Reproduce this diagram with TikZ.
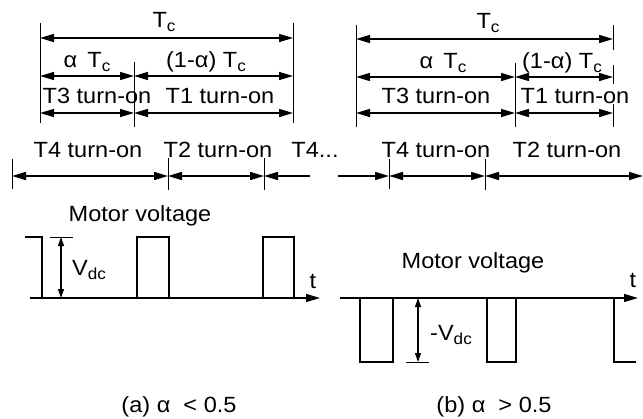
\documentclass[tikz,border=0pt]{standalone}
\usepackage{fontspec}
\setmainfont{Liberation Sans}[FakeStretch=1.07]
\usetikzlibrary{arrows.meta}
\newcommand\sbs[1]{\raisebox{-0.22em}{\fontsize{16}{16}\selectfont #1}}
\tikzset{
  lbl/.style={anchor=base, inner sep=0pt, font=\fontsize{22}{25}\selectfont},
  tipb/.tip={Triangle[length=14pt,width=8pt]},
  tips/.tip={Triangle[length=9pt,width=6pt]},
  dimb/.style={line width=1.4pt, tipb-tipb},
  dimr/.style={line width=1.4pt, -tipb},
  diml/.style={line width=1.4pt, tipb-},
  tick/.style={line width=1pt},
  wave/.style={line width=1.8pt},
  axis/.style={line width=1.3pt, -tipb},
  vdim/.style={line width=1.1pt, tips-tips},
}
\begin{document}
\begin{tikzpicture}[x=1pt,y=-1pt]
\useasboundingbox (0,0) rectangle (643,418);
% ---------- (a) ----------
\draw[tick] (40,23) -- (40,123);
\draw[tick] (293,23) -- (293,123);
\draw[tick] (134,62) -- (134,127);
\coordinate (a1l) at (40,38); \coordinate (a1r) at (293,38);
\draw[dimb] (a1l) -- (a1r);
\node[lbl] (aTc) at (164,27) {T\sbs{c}};
\coordinate (a2l) at (40,76); \coordinate (a2m) at (134,76); \coordinate (a2r) at (293,76);
\draw[dimb] (a2l) -- (a2m);
\draw[dimb] (a2m) -- (a2r);
\node[lbl] (aal) at (87,67) {α\, T\sbs{c}};
\node[lbl] (a1al) at (206,67) {(1-α) T\sbs{c}};
\coordinate (a3l) at (40,113); \coordinate (a3m) at (134,113); \coordinate (a3r) at (293,113);
\draw[dimb] (a3l) -- (a3m);
\draw[dimb] (a3m) -- (a3r);
\node[lbl] (aT3) at (97,103) {T3 turn-on};
\node[lbl] (aT1) at (220,103) {T1 turn-on};
% bottom row (a)
\draw[tick] (12,159) -- (12,189);
\draw[tick] (168,158) -- (168,190);
\draw[tick] (264,158) -- (264,190);
\coordinate (b1) at (12,176); \coordinate (b2) at (168,176); \coordinate (b3) at (264,176); \coordinate (b4) at (310,176);
\draw[dimb] (b1) -- (b2);
\draw[dimb] (b2) -- (b3);
\draw[diml] (b3) -- (b4);
\node[lbl] (aT4) at (88,157) {T4 turn-on};
\node[lbl] (aT2) at (218,157) {T2 turn-on};
\node[lbl] (aT4d) at (315,157) {T4...};
% waveform (a)
\node[lbl] (amv) at (140,221) {Motor voltage};
\coordinate (ax0) at (30,298); \coordinate (ax1) at (320,298);
\draw[axis] (ax0) -- (ax1);
\draw[wave] (25,237) -- (42,237) -- (42,298) -- (137,298) -- (137,237) -- (169,237) -- (169,298)
  -- (263,298) -- (263,237) -- (294,237) -- (294,298);
\draw[tick] (50,237) -- (73,237);
\coordinate (av0) at (61,237); \coordinate (av1) at (61,298);
\draw[vdim] (av0) -- (av1);
\node[lbl] (aV) at (89,275) {V\sbs{dc}};
\node[lbl] (at) at (313,288) {t};
\node[lbl] (acap) at (179,412) {(a) α \ < 0.5};
% ---------- (b) ----------
\draw[tick] (356,25) -- (356,127);
\draw[tick] (613,25) -- (613,50);
\draw[tick] (613,65) -- (613,84);
\draw[tick] (613,104) -- (613,127);
\draw[tick] (515,63) -- (515,127);
\coordinate (c1l) at (356,39); \coordinate (c1r) at (613,39);
\draw[dimb] (c1l) -- (c1r);
\node[lbl] (bTc) at (488,28) {T\sbs{c}};
\coordinate (c2l) at (356,77); \coordinate (c2m) at (515,77); \coordinate (c2r) at (613,77);
\draw[dimb] (c2l) -- (c2m);
\draw[dimb] (c2m) -- (c2r);
\node[lbl] (bal) at (443,68) {α\, T\sbs{c}};
\node[lbl] (b1al) at (562,68) {(1-α) T\sbs{c}};
\coordinate (c3l) at (356,113); \coordinate (c3m) at (515,113); \coordinate (c3r) at (613,113);
\draw[dimb] (c3l) -- (c3m);
\draw[dimb] (c3m) -- (c3r);
\node[lbl] (bT3) at (436,103) {T3 turn-on};
\node[lbl] (bT1) at (575,103) {T1 turn-on};
% bottom row (b)
\draw[tick] (389,159) -- (389,189);
\draw[tick] (485,159) -- (485,190);
\coordinate (d0) at (338,176); \coordinate (d1) at (389,176); \coordinate (d2) at (485,176); \coordinate (d3) at (643,176);
\draw[dimr] (d0) -- (d1);
\draw[dimb] (d1) -- (d2);
\draw[dimb] (d2) -- (d3);
\node[lbl] (bT4) at (436,157) {T4 turn-on};
\node[lbl] (bT2) at (567,157) {T2 turn-on};
% waveform (b)
\node[lbl] (bmv) at (473,268) {Motor voltage};
\coordinate (bx0) at (340,298); \coordinate (bx1) at (638,298);
\draw[axis] (bx0) -- (bx1);
\draw[wave] (340,298) -- (360,298) -- (360,362) -- (393,362) -- (393,298) -- (487,298) -- (487,362)
  -- (516,362) -- (516,298) -- (614,298) -- (614,362) -- (636,362);
\draw[tick] (406,362) -- (429,362);
\coordinate (bv0) at (418,298); \coordinate (bv1) at (418,362);
\draw[vdim] (bv0) -- (bv1);
\node[lbl] (bV) at (451,340) {-V\sbs{dc}};
\node[lbl] (bt) at (633,287) {t};
\node[lbl] (bcap) at (494,412) {(b) α \ > 0.5};
\end{tikzpicture}
\end{document}
